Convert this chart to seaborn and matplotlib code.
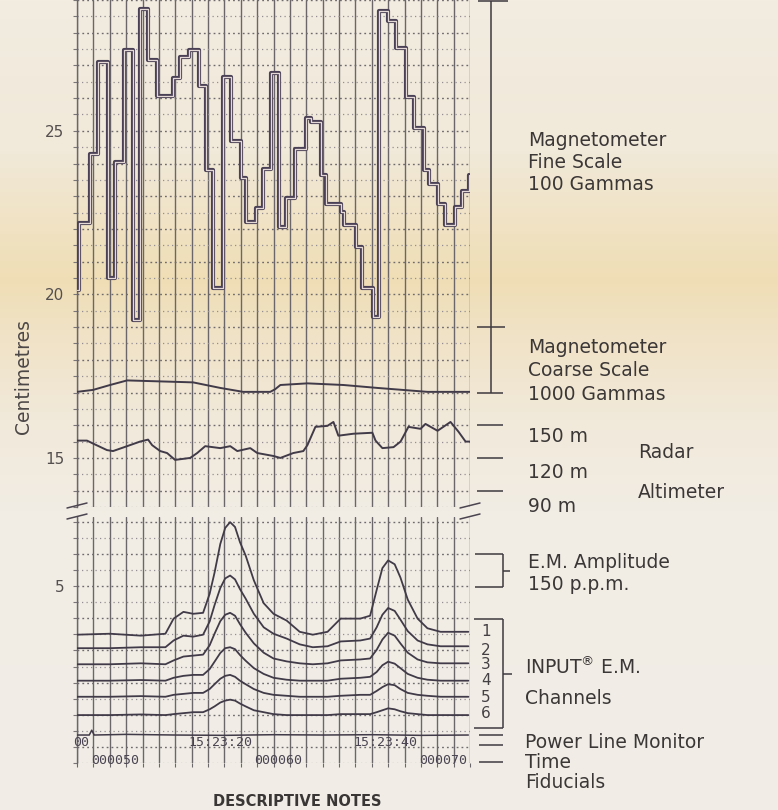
import numpy as np
import pandas as pd
import matplotlib
matplotlib.use("Agg")
import matplotlib.pyplot as plt
import matplotlib.transforms as mtransforms
from matplotlib.lines import Line2D
import seaborn as sns

# ---------------- data (x in fiducial units, y in centimetres) ----------------
mag_fine_x = [0, 0.10, 0.80, 1.29, 1.90, 2.33, 2.88, 3.44, 3.87, 4.36, 4.91, 5.89, 6.32, 6.81,
              7.42, 7.85, 8.28, 8.90, 9.39, 10.0, 10.31, 10.92, 11.35, 11.84, 12.33, 12.76,
              13.31, 13.99, 14.29, 14.91, 15.21, 16.13, 16.32, 17.06, 17.42, 18.10, 18.47,
              19.02, 19.51, 20.12, 20.61, 21.17, 21.47, 22.02, 22.45, 23.07, 23.50, 23.95]
mag_fine_y = [20.13, 22.18, 24.29, 27.11, 20.49, 24.05, 27.46, 19.21, 28.74, 27.17, 26.07, 26.63,
              27.26, 27.46, 26.36, 23.81, 20.19, 26.66, 24.70, 23.55, 22.21, 22.63, 23.84, 26.78,
              22.06, 22.95, 24.44, 25.39, 25.27, 23.66, 22.77, 22.51, 22.12, 21.44, 20.19, 19.30,
              28.65, 28.35, 27.52, 26.04, 25.09, 23.81, 23.37, 22.77, 22.12, 22.66, 23.16, 23.66]

mag_coarse_x = [0, 0.98, 2.02, 3.06, 5.08, 7.09, 8.75, 10.15, 11.8, 12.1, 12.42, 14.07, 16.27,
                18.35, 21.41, 24.0]
mag_coarse_y = [17.02, 17.08, 17.23, 17.37, 17.34, 17.31, 17.14, 17.02, 17.02, 17.10, 17.23,
                17.28, 17.23, 17.14, 17.02, 17.02]

radar_x = [0, 0.61, 0.98, 1.83, 2.20, 3.06, 3.85, 4.34, 4.59, 5.08, 5.50, 5.99, 6.91, 7.34, 7.83,
           8.75, 9.36, 9.79, 10.58, 11.01, 11.99, 12.42, 13.21, 13.82, 14.07, 14.56, 15.29, 15.66,
           15.96, 16.88, 18.04, 18.23, 18.65, 19.33, 19.76, 20.24, 20.98, 21.28, 22.02, 22.81,
           23.30, 23.73, 24.0]
radar_y = [15.53, 15.53, 15.44, 15.24, 15.21, 15.36, 15.50, 15.56, 15.39, 15.21, 15.15, 14.94,
           15.00, 15.15, 15.36, 15.30, 15.36, 15.21, 15.30, 15.15, 15.06, 15.00, 15.15, 15.21,
           15.39, 15.95, 15.98, 16.10, 15.68, 15.74, 15.77, 15.53, 15.30, 15.33, 15.50, 15.95,
           15.89, 16.04, 15.83, 16.10, 15.80, 15.50, 15.50]

em_x = [0, 2.0, 3.9, 5.4, 5.9, 6.5, 7.1, 7.7, 8.1, 8.4, 8.75, 9.05, 9.35, 9.65, 9.95, 10.3, 10.8,
        11.4, 12.0, 12.8, 13.6, 14.4, 15.3, 16.1, 17.3, 17.9, 18.3, 18.65, 19.0, 19.4, 19.75,
        20.2, 20.8, 21.4, 22.2, 23.9]
em_ch1 = [3.49, 3.52, 3.46, 3.52, 3.99, 4.20, 4.14, 4.17, 4.76, 5.42, 6.31, 6.81, 6.99, 6.84,
          6.37, 5.95, 5.18, 4.47, 4.14, 3.93, 3.58, 3.49, 3.58, 3.99, 3.99, 4.08, 4.88, 5.56,
          5.80, 5.68, 5.27, 4.58, 3.99, 3.69, 3.58, 3.58]
em_ch2 = [3.07, 3.07, 3.10, 3.10, 3.31, 3.46, 3.43, 3.49, 3.90, 4.41, 4.94, 5.24, 5.33, 5.21,
          4.91, 4.61, 4.14, 3.72, 3.52, 3.37, 3.19, 3.10, 3.13, 3.28, 3.31, 3.37, 3.72, 4.11,
          4.32, 4.23, 3.96, 3.60, 3.31, 3.19, 3.13, 3.13]
em_ch3 = [2.57, 2.57, 2.60, 2.57, 2.69, 2.81, 2.84, 2.87, 3.16, 3.52, 3.91, 4.11, 4.17, 4.08,
          3.82, 3.55, 3.22, 2.93, 2.75, 2.66, 2.60, 2.57, 2.60, 2.69, 2.72, 2.75, 3.02, 3.34,
          3.55, 3.46, 3.22, 2.93, 2.72, 2.63, 2.60, 2.60]
em_ch4 = [2.06, 2.06, 2.08, 2.06, 2.15, 2.21, 2.24, 2.24, 2.42, 2.65, 2.92, 3.07, 3.10, 3.04,
          2.86, 2.68, 2.45, 2.27, 2.15, 2.09, 2.06, 2.06, 2.06, 2.12, 2.15, 2.18, 2.33, 2.54,
          2.65, 2.59, 2.45, 2.27, 2.15, 2.09, 2.06, 2.06]
em_ch5 = [1.56, 1.56, 1.58, 1.56, 1.62, 1.65, 1.68, 1.68, 1.80, 1.95, 2.12, 2.21, 2.24, 2.18,
          2.06, 1.95, 1.80, 1.68, 1.62, 1.59, 1.56, 1.56, 1.56, 1.59, 1.62, 1.62, 1.74, 1.86,
          1.95, 1.92, 1.80, 1.68, 1.62, 1.59, 1.56, 1.56]
em_ch6 = [0.99, 0.99, 1.01, 0.99, 1.02, 1.05, 1.08, 1.08, 1.17, 1.26, 1.38, 1.44, 1.47, 1.44,
          1.35, 1.26, 1.14, 1.08, 1.02, 0.99, 0.99, 0.99, 0.99, 1.02, 1.02, 1.02, 1.08, 1.14,
          1.20, 1.17, 1.11, 1.05, 1.02, 0.99, 0.99, 0.99]

power_x = [0, 0.75, 0.9, 1.05, 3.0, 6.0, 9.0, 12.0, 15.0, 18.0, 21.0, 23.9]
power_y = [0.37, 0.37, 0.52, 0.37, 0.39, 0.37, 0.36, 0.38, 0.37, 0.38, 0.36, 0.37]

channel_names = ["1", "2", "3", "4", "5", "6"]
channel_label_y = [3.58, 3.01, 2.57, 2.06, 1.53, 1.05]
time_labels = ["00", "15:23:20", "15:23:40"]
time_x = [-0.25, 6.8, 16.85]
fiducial_labels = ["000050", "000060", "000070"]
fiducial_x = [2.3, 12.3, 22.35]

# ---------------- figure ----------------
sns.set_theme(style="white")
plt.rcParams["font.family"] = ["DejaVu Sans"]
plt.rcParams["mathtext.fontset"] = "dejavusans"

W, H = 778, 810
fig = plt.figure(figsize=(W / 100, H / 100), dpi=100)


def fx(px):
    return px / W


def fy(py):
    return 1 - py / H


# background paper tone (photo lighting band)
bg = fig.add_axes([0, 0, 1, 1], zorder=-10)
bg.axis("off")
stops_py = [0, 150, 230, 280, 330, 420, 520, 810]
stops_rgb = np.array([[242, 236, 225], [241, 233, 217], [240, 226, 194], [239, 222, 181],
                      [240, 226, 197], [241, 233, 218], [241, 237, 229], [241, 237, 231]]) / 255
rows = np.arange(H)
grad = np.stack([np.interp(rows, stops_py, stops_rgb[:, i]) for i in range(3)], axis=-1)
bg.imshow(grad[:, None, :], aspect="auto", extent=[0, 1, 0, 1], origin="upper")
bg.set_xlim(0, 1)
bg.set_ylim(0, 1)

ax_top = fig.add_axes([fx(77), fy(507), fx(470) - fx(77), fy(0) - fy(507)])
ax_bot = fig.add_axes([fx(77), fy(763), fx(470) - fx(77), fy(517) - fy(763)])

TRACE = "#413a48"

# magnetometer fine scale (double-stroked step trace)
sns.lineplot(x=mag_fine_x, y=mag_fine_y, ax=ax_top, color="#4b4157", linewidth=3.0,
             drawstyle="steps-post", estimator=None, sort=False, zorder=3)
sns.lineplot(x=mag_fine_x, y=mag_fine_y, ax=ax_top, color="#e4d9d6", linewidth=0.9,
             drawstyle="steps-post", estimator=None, sort=False, zorder=4)
# magnetometer coarse scale
sns.lineplot(x=mag_coarse_x, y=mag_coarse_y, ax=ax_top, color=TRACE, linewidth=1.4,
             estimator=None, sort=False, zorder=3)
# radar altimeter
sns.lineplot(x=radar_x, y=radar_y, ax=ax_top, color=TRACE, linewidth=1.4,
             estimator=None, sort=False, zorder=3)

# EM channels
em_df = pd.concat([
    pd.DataFrame({"x": em_x, "y": vals, "channel": name})
    for name, vals in zip(channel_names, [em_ch1, em_ch2, em_ch3, em_ch4, em_ch5, em_ch6])
])
sns.lineplot(data=em_df, x="x", y="y", hue="channel", units="channel",
             palette={n: TRACE for n in channel_names}, linewidth=1.3,
             estimator=None, sort=False, legend=False, ax=ax_bot, zorder=3)
sns.lineplot(x=power_x, y=power_y, ax=ax_bot, color=TRACE, linewidth=1.1,
             estimator=None, sort=False, zorder=3)

GRID = "#6a6669"


def style_axis(ax, ylo, yhi, labelled):
    ax.set_facecolor("none")
    ax.set_axisbelow(True)
    ax.set_xlim(0, 24)
    ax.set_ylim(ylo, yhi)
    ax.set_xlabel("")
    ax.set_ylabel("")
    ax.set_xticks(np.arange(0, 25, 1))
    maj = np.arange(np.ceil(ylo), np.floor(yhi) + 1, 1.0)
    ax.set_yticks(maj)
    ax.set_yticks(np.arange(np.ceil(ylo) - 0.5, yhi, 1.0), minor=True)
    ax.set_yticklabels([f"{int(v)}" if int(v) in labelled else "" for v in maj])
    ax.grid(axis="x", which="major", color=GRID, linewidth=1.0, linestyle="-")
    ax.grid(axis="y", which="major", color="#6f6a6e", linewidth=1.0, linestyle=(0, (1.3, 2.2)))
    ax.grid(axis="y", which="minor", color="#958f93", linewidth=0.9, linestyle=(0, (1.0, 2.6)))
    ax.tick_params(axis="x", which="both", top=False, labelbottom=False, bottom=False)
    ax.tick_params(axis="y", which="both", left=True, length=3, width=0.8, color="#7a7678",
                   direction="out", labelsize=11, labelcolor="#555050", pad=6)
    for s in ["top", "right", "bottom"]:
        ax.spines[s].set_visible(False)
    ax.spines["left"].set_color(GRID)
    ax.spines["left"].set_linewidth(1.0)


style_axis(ax_top, 13.95, 29.0, [15, 20, 25])
style_axis(ax_bot, -0.15, 7.15, [5])
ax_bot.tick_params(axis="x", which="major", bottom=True, length=3, width=0.8,
                   color=GRID, direction="out")

# time and fiducial annotations on the record
MONO = dict(family="DejaVu Sans Mono", fontsize=9.5, color="#4a4452")
for lab, xv in zip(time_labels, time_x):
    ax_bot.text(xv, 0.13, lab, ha="left", va="center", clip_on=False, **MONO)
for lab, xv in zip(fiducial_labels, fiducial_x):
    ax_bot.text(xv, -0.42, lab, ha="center", va="center", clip_on=False, **MONO)

# y-axis title
fig.text(fx(24), fy(377), "Centimetres", rotation=90, ha="center", va="center",
         fontsize=13.5, color="#4d4848")

# axis break marks
BRK = "#4a4450"
for x0 in (67, 460):
    for yy in (506, 517):
        fig.add_artist(Line2D([fx(x0), fx(x0 + 20)], [fy(yy + 2), fy(yy - 3)],
                              transform=fig.transFigure, color=BRK, lw=1.1))

# right-hand scale brackets
trT = mtransforms.blended_transform_factory(fig.transFigure, ax_top.transData)
trB = mtransforms.blended_transform_factory(fig.transFigure, ax_bot.transData)
LC = "#3e393f"


def seg(tr, x0, x1, y0, y1, lw=1.1):
    fig.add_artist(Line2D([fx(x0), fx(x1)], [y0, y1], transform=tr, color=LC, lw=lw,
                          solid_capstyle="butt"))


seg(trT, 491, 491, 17.0, 28.97)
seg(trT, 478, 508, 28.97, 28.97)
seg(trT, 477, 505, 19.0, 19.0)
seg(trT, 477, 503, 17.0, 17.0)
for v in (16.0, 15.0, 14.0):
    seg(trT, 477, 503, v, v)

seg(trB, 475, 503, 6.0, 6.0)
seg(trB, 475, 503, 4.97, 4.97)
seg(trB, 503, 503, 4.97, 6.0)
seg(trB, 503, 510, 5.48, 5.48)

seg(trB, 474, 503, 3.99, 3.99)
seg(trB, 474, 503, 0.58, 0.58)
seg(trB, 503, 503, 0.58, 3.99)
seg(trB, 503, 512, 2.27, 2.27)
for v in (0.37, 0.07, -0.46):
    seg(trB, 479, 503, v, v)

for lab, yv in zip(channel_names, channel_label_y):
    fig.text(fx(481), yv, lab, transform=trB, ha="left", va="center", fontsize=11,
             color="#444044")

# right-hand captions
TXT = dict(fontsize=13.5, color="#3b3737", ha="left", va="center")
captions = [
    (528, 140, "Magnetometer"), (528, 162, "Fine Scale"), (528, 184, "100 Gammas"),
    (528, 347, "Magnetometer"), (528, 371, "Coarse Scale"), (528, 394, "1000 Gammas"),
    (528, 437, "150 m"), (528, 472, "120 m"), (528, 506, "90 m"),
    (638, 453, "Radar"), (638, 492, "Altimeter"),
    (528, 563, "E.M. Amplitude"), (528, 585, "150 p.p.m."),
    (525, 667, r"INPUT$^{\mathrm{®}}$ E.M."), (525, 698, "Channels"),
    (525, 742, "Power Line Monitor"), (525, 762, "Time"), (525, 782, "Fiducials"),
]
for px, py, s in captions:
    fig.text(fx(px), fy(py), s, **TXT)

fig.text(fx(297), fy(806), "DESCRIPTIVE NOTES", ha="center", va="baseline",
         fontsize=10.5, fontweight="bold", color="#3a3636")

fig.savefig("out.png", dpi=100)
